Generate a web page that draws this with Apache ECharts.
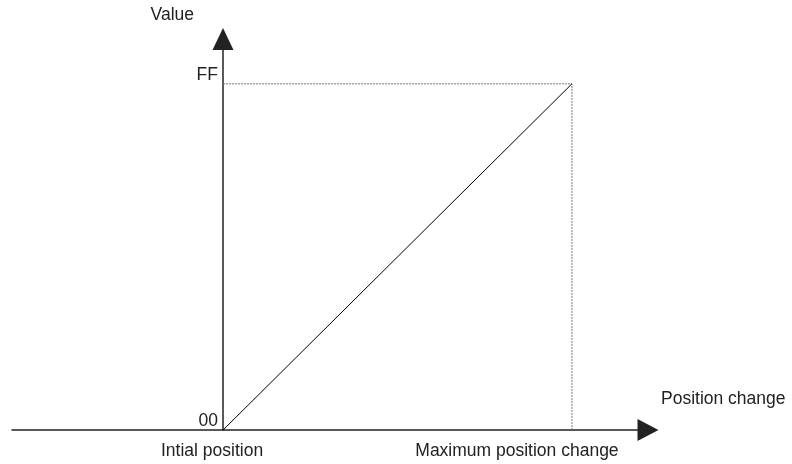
<!DOCTYPE html>
<html>
<head>
<meta charset="utf-8">
<script src="https://cdn.jsdelivr.net/npm/echarts@6/dist/echarts.min.js"></script>
<style>
  html, body { margin: 0; padding: 0; background: #fff; }
  #chart { width: 792px; height: 464px; }
</style>
</head>
<body>
<div id="chart"></div>
<script>
// tick positions and their labels
const xTicks = [0, 1]
const xTickLabels = ['Intial position', 'Maximum position change']
const yTicks = [0, 255]
const yTickLabels = ['00', 'FF']

// linear ramp from initial position to maximum change
const rampX = [0, 1]
const rampY = [0, 255]

// dotted guide: FF level across, then down to max position
const guideX = [0, 1, 1]
const guideY = [255, 255, 0]

const pairs = (xs, ys) => xs.map((x, i) => [x, ys[i]])

const font = 'Liberation Sans, Arial, sans-serif'
const axisColor = '#222'

const chart = echarts.init(document.getElementById('chart'))
chart.setOption({
  animation: false,
  backgroundColor: '#fff',
  grid: { left: 12, right: 144, top: 39, bottom: 34, containLabel: false, outerBoundsMode: 'none' },
  xAxis: {
    type: 'value',
    min: -0.605,
    max: 1.218,
    name: 'Position change',
    nameLocation: 'end',
    nameGap: 13,
    nameTextStyle: {
      fontFamily: font, fontSize: 17.5, color: '#222',
      verticalAlign: 'bottom', padding: [0, 0, 22, 0]
    },
    axisLine: {
      show: true,
      onZero: false,
      symbol: ['none', 'triangle'],
      symbolSize: [22, 21],
      lineStyle: { color: axisColor, width: 1.5 }
    },
    axisTick: { show: false },
    splitLine: { show: false },
    axisLabel: {
      customValues: xTicks,
      margin: 12,
      fontFamily: font,
      fontSize: 17.5,
      color: '#222',
      formatter: function (v) {
        const i = xTicks.indexOf(v)
        return i === 0 ? '{a|' + xTickLabels[0] + '}' : '{b|' + xTickLabels[i] + '}'
      },
      rich: {
        a: { fontFamily: font, fontSize: 17.5, color: '#222', padding: [0, 22, 0, 0] },
        b: { fontFamily: font, fontSize: 17.5, color: '#222', padding: [0, 110, 0, 0] }
      }
    }
  },
  yAxis: {
    type: 'value',
    min: 0,
    max: 288,
    // sit the axis on x = 0 (grid left is 211px before it)
    offset: -211,
    name: 'Value',
    nameLocation: 'end',
    nameGap: 15,
    nameTextStyle: {
      fontFamily: font, fontSize: 17.5, color: '#222',
      align: 'right', padding: [0, 29, 0, 0]
    },
    axisLine: {
      show: true,
      onZero: false,
      symbol: ['none', 'triangle'],
      symbolSize: [21, 22],
      lineStyle: { color: axisColor, width: 1.5 }
    },
    axisTick: { show: false },
    splitLine: { show: false },
    axisLabel: {
      customValues: yTicks,
      margin: 5,
      verticalAlign: 'bottom',
      fontFamily: font,
      fontSize: 17.5,
      color: '#222',
      formatter: function (v) {
        return yTickLabels[yTicks.indexOf(v)]
      }
    }
  },
  series: [
    {
      type: 'line',
      data: pairs(guideX, guideY),
      showSymbol: false,
      symbol: 'none',
      lineStyle: { color: '#777', width: 1, type: [2, 1] },
      z: 1
    },
    {
      type: 'line',
      data: pairs(rampX, rampY),
      showSymbol: false,
      symbol: 'none',
      lineStyle: { color: '#000', width: 1 },
      z: 2
    }
  ]
})
</script>
</body>
</html>
